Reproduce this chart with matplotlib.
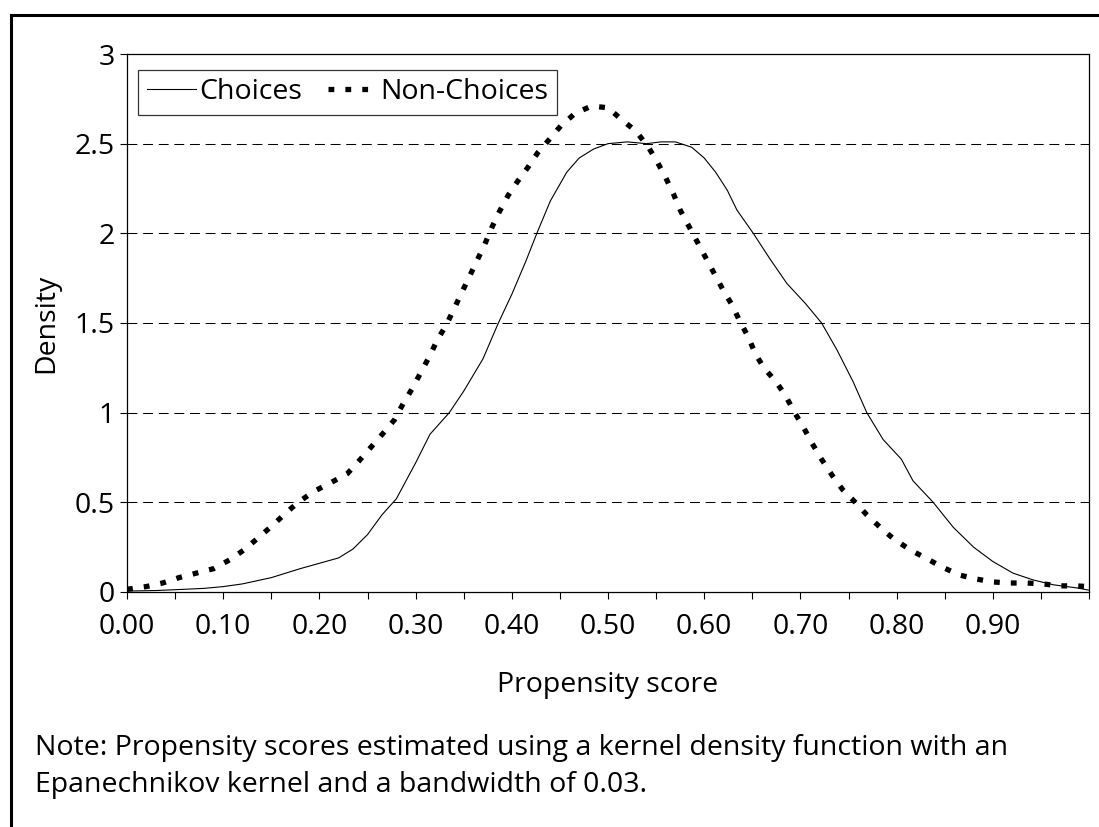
"""
Kernel density of propensity scores, Choices vs Non-Choices
(values read off the reference picture)
"""

import numpy as np
import matplotlib
matplotlib.use("Agg")
import matplotlib.pyplot as plt
from matplotlib.lines import Line2D

plt.rcParams["font.family"] = ["Open Sans", "DejaVu Sans"]

# ── data ───────────────────────────────────────────────────────────────────────
choices_x = [0.00, 0.03, 0.06, 0.08, 0.10, 0.12, 0.15, 0.18, 0.20, 0.22,
             0.235, 0.25, 0.265, 0.28, 0.30, 0.315, 0.335, 0.35, 0.37, 0.386,
             0.40, 0.415, 0.426, 0.44, 0.457, 0.47, 0.485, 0.50, 0.52, 0.54,
             0.555, 0.57, 0.587, 0.60, 0.612, 0.624, 0.634, 0.651, 0.668, 0.686,
             0.705, 0.722, 0.738, 0.755, 0.769, 0.786, 0.805, 0.817, 0.838, 0.859,
             0.88, 0.90, 0.921, 0.942, 0.963, 0.988, 1.00]
choices_y = [0.005, 0.008, 0.015, 0.02, 0.03, 0.045, 0.08, 0.13, 0.16, 0.19,
             0.24, 0.32, 0.43, 0.52, 0.72, 0.88, 1.00, 1.12, 1.30, 1.50,
             1.66, 1.85, 2.00, 2.18, 2.34, 2.42, 2.47, 2.50, 2.51, 2.50,
             2.51, 2.51, 2.48, 2.42, 2.34, 2.24, 2.13, 2.00, 1.86, 1.72,
             1.61, 1.50, 1.35, 1.17, 1.00, 0.85, 0.74, 0.62, 0.50, 0.36,
             0.25, 0.17, 0.105, 0.067, 0.04, 0.022, 0.01]

nonchoices_x = [0.00, 0.02, 0.037, 0.054, 0.072, 0.09, 0.107, 0.123, 0.138, 0.151,
                0.165, 0.178, 0.194, 0.212, 0.229, 0.241, 0.254, 0.267, 0.278, 0.287,
                0.296, 0.305, 0.314, 0.323, 0.332, 0.340, 0.348, 0.356, 0.364, 0.372,
                0.379, 0.387, 0.396, 0.406, 0.417, 0.427, 0.440, 0.451, 0.466, 0.483,
                0.500, 0.515, 0.529, 0.542, 0.551, 0.560, 0.568, 0.575, 0.584, 0.593,
                0.602, 0.610, 0.620, 0.629, 0.637, 0.646, 0.653, 0.662, 0.675, 0.685,
                0.694, 0.703, 0.712, 0.722, 0.733, 0.744, 0.757, 0.769, 0.783, 0.796,
                0.814, 0.830, 0.847, 0.865, 0.883, 0.90, 0.917, 0.935, 0.952, 0.969,
                0.986, 1.00]
nonchoices_y = [0.015, 0.03, 0.05, 0.08, 0.105, 0.13, 0.18, 0.24, 0.31, 0.37,
                0.44, 0.50, 0.56, 0.61, 0.66, 0.73, 0.81, 0.89, 0.96, 1.05,
                1.13, 1.22, 1.31, 1.41, 1.49, 1.58, 1.67, 1.76, 1.85, 1.94,
                2.03, 2.12, 2.21, 2.29, 2.37, 2.45, 2.53, 2.60, 2.67, 2.71,
                2.70, 2.63, 2.57, 2.48, 2.40, 2.31, 2.22, 2.13, 2.04, 1.95,
                1.86, 1.78, 1.68, 1.60, 1.51, 1.42, 1.33, 1.25, 1.17, 1.09,
                1.00, 0.92, 0.83, 0.74, 0.65, 0.57, 0.50, 0.43, 0.36, 0.30,
                0.235, 0.19, 0.14, 0.095, 0.072, 0.056, 0.05, 0.05, 0.045, 0.034,
                0.034, 0.03]

y_ticks = [0, 0.5, 1, 1.5, 2, 2.5, 3]
y_tick_labels = ["0", "0.5", "1", "1.5", "2", "2.5", "3"]
x_major = [0.00, 0.10, 0.20, 0.30, 0.40, 0.50, 0.60, 0.70, 0.80, 0.90]
x_minor = [0.05, 0.15, 0.25, 0.35, 0.45, 0.55, 0.65, 0.75, 0.85, 0.95, 1.00]

NOTE = ("Note: Propensity scores estimated using a kernel density function with an\n"
        "Epanechnikov kernel and a bandwidth of 0.03.")

FS = 20.5

# ── figure ─────────────────────────────────────────────────────────────────────
fig = plt.figure(figsize=(10.99, 8.27), dpi=100)
ax = fig.add_axes([0.1156, 0.2842, 0.8753, 0.6505])

ax.plot(choices_x, choices_y, color="black", linewidth=0.8, label="Choices")
ax.plot(nonchoices_x, nonchoices_y, color="black", linewidth=3.8,
        linestyle=(0, (1.1, 2.1)), label="Non-Choices")

ax.set_xlim(0, 1)
ax.set_ylim(0, 3)

# dashed gridlines
for yv in y_ticks[1:-1]:
    ax.axhline(yv, color="black", linewidth=0.75, linestyle=(0, (9.5, 5.5)), zorder=0)

ax.set_yticks(y_ticks)
ax.set_yticklabels(y_tick_labels)
ax.set_xticks(x_major)
ax.set_xticklabels([f"{v:.2f}" for v in x_major])
ax.set_xticks(x_minor, minor=True)
ax.tick_params(axis="both", which="both", direction="out", length=5, width=0.8,
               labelsize=FS, pad=4)
ax.tick_params(axis="x", which="major", pad=10)

for sp in ax.spines.values():
    sp.set_linewidth(0.9)

ax.set_ylabel("Density", fontsize=FS, labelpad=10)
ax.set_xlabel("Propensity score", fontsize=FS, labelpad=22)

leg = ax.legend(loc="upper left", bbox_to_anchor=(0.0115, 0.971), ncol=2,
                fontsize=FS, frameon=True, fancybox=False, borderaxespad=0,
                handlelength=1.75, handletextpad=0.1, columnspacing=0.9,
                borderpad=0.3)
leg.get_frame().set_edgecolor("black")
leg.get_frame().set_linewidth(0.9)

fig.text(0.032, 0.113, NOTE, fontsize=FS, ha="left", va="top", linespacing=1.45)

# outer frame: top and left edges only
fig.add_artist(Line2D([0.010, 1.0], [0.982, 0.982], transform=fig.transFigure,
                      color="black", linewidth=2.2))
fig.add_artist(Line2D([0.010, 0.010], [0.0, 0.982], transform=fig.transFigure,
                      color="black", linewidth=2.2))

plt.savefig("out.png", dpi=100)
